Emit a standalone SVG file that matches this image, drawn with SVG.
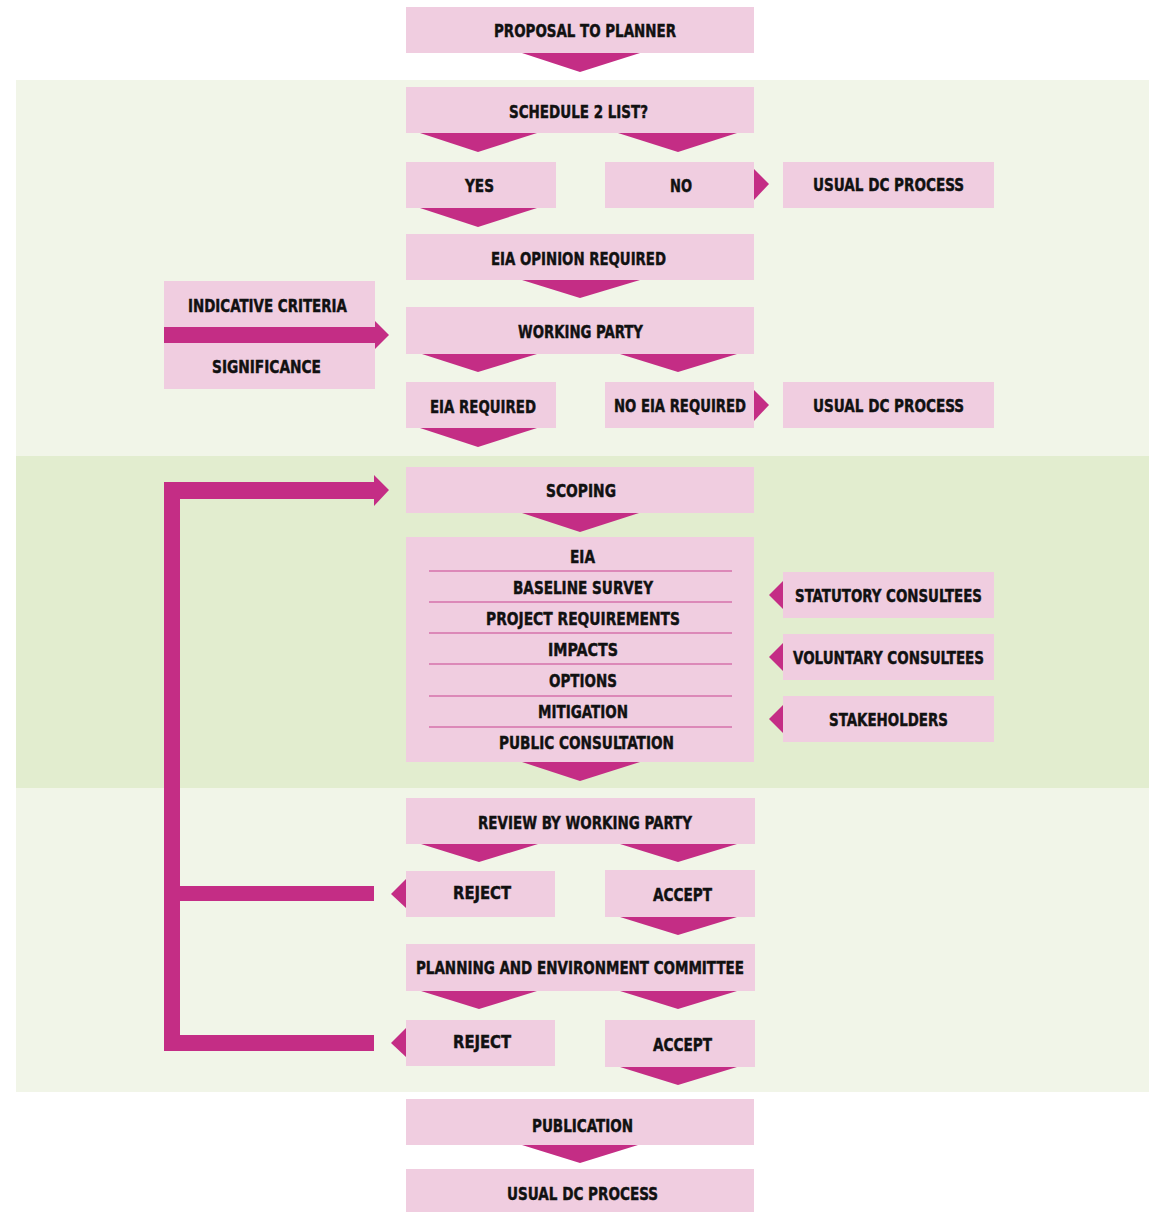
<svg xmlns="http://www.w3.org/2000/svg" width="1149" height="1212" viewBox="0 0 1149 1212">
<style>
.box{fill:#f0cde0}
.con{fill:#c42d85}
.sep{stroke:#c8458f;stroke-width:1.2}
text{font-family:"Liberation Sans Narrow","DejaVu Sans Condensed","Liberation Sans",sans-serif;font-weight:bold;font-size:18.5px;fill:#111;stroke:#111;stroke-width:0.45;font-stretch:condensed}
</style>
<rect x="0" y="0" width="1149" height="1212" fill="#ffffff"/>
<rect x="16" y="80" width="1133" height="376" fill="#f1f5e8"/>
<rect x="16" y="456" width="1133" height="332" fill="#e2edcf"/>
<rect x="16" y="788" width="1133" height="304" fill="#f1f5e8"/>

<g id="connectors">
<polygon class="con" points="522,53 640,53 580,72"/>
<polygon class="con" points="420,133 537,133 478,152"/>
<polygon class="con" points="618,133 737,133 678,152"/>
<polygon class="con" points="754,169 769,184 754,200"/>
<polygon class="con" points="420,208 537,208 478,227"/>
<polygon class="con" points="522,280 640,280 580,298"/>
<polygon class="con" points="375,321 389,335 375,349"/>
<polygon class="con" points="422,354 537,354 478,372"/>
<polygon class="con" points="620,354 737,354 678,372"/>
<polygon class="con" points="754,390 769,405 754,421"/>
<polygon class="con" points="420,428 537,428 478,447"/>
<polygon class="con" points="522,513 639,513 580,532"/>
<polygon class="con" points="522,762 640,762 580,781"/>
<polygon class="con" points="783,581 769,595 783,609"/>
<polygon class="con" points="783,643 769,657 783,671"/>
<polygon class="con" points="783,705 769,719 783,733"/>
<polygon class="con" points="421,844 538,844 479,862"/>
<polygon class="con" points="620,844 737,844 678,862"/>
<polygon class="con" points="406,879 391,894 406,908"/>
<polygon class="con" points="620,917 737,917 678,935"/>
<polygon class="con" points="421,991 537,991 479,1009"/>
<polygon class="con" points="620,991 737,991 678,1009"/>
<polygon class="con" points="406,1028 391,1043 406,1057"/>
<polygon class="con" points="620,1067 737,1067 678,1085"/>
<polygon class="con" points="522,1145 638,1145 580,1163"/>
<path class="con" d="M164,482 H374 V475 L389,490 L374,506 V499 H180 V886 H374 V901 H180 V1035 H374 V1051 H164 Z"/>
</g>

<g id="proposal"><rect class="box" x="406" y="7" width="348" height="46"/><text x="494" y="37" textLength="182" lengthAdjust="spacingAndGlyphs">PROPOSAL TO PLANNER</text></g>
<g id="schedule2"><rect class="box" x="406" y="87" width="348" height="46"/><text x="509" y="118" textLength="139" lengthAdjust="spacingAndGlyphs">SCHEDULE 2 LIST?</text></g>
<g id="yes"><rect class="box" x="406" y="162" width="150" height="46"/><text x="465" y="192" textLength="29" lengthAdjust="spacingAndGlyphs">YES</text></g>
<g id="no"><rect class="box" x="605" y="162" width="149" height="46"/><text x="670" y="192" textLength="22" lengthAdjust="spacingAndGlyphs">NO</text></g>
<g id="usual-dc-1"><rect class="box" x="783" y="162" width="211" height="46"/><text x="813" y="191" textLength="151" lengthAdjust="spacingAndGlyphs">USUAL DC PROCESS</text></g>
<g id="eia-opinion"><rect class="box" x="406" y="234" width="348" height="46"/><text x="491" y="265" textLength="175" lengthAdjust="spacingAndGlyphs">EIA OPINION REQUIRED</text></g>
<g id="criteria">
<rect class="box" x="164" y="281" width="211" height="108"/>
<rect class="con" x="164" y="327" width="211" height="16"/>
<text x="188" y="312" textLength="159" lengthAdjust="spacingAndGlyphs">INDICATIVE CRITERIA</text>
<text x="212" y="373" textLength="109" lengthAdjust="spacingAndGlyphs">SIGNIFICANCE</text>
</g>
<g id="working-party"><rect class="box" x="406" y="307" width="348" height="47"/><text x="518" y="338" textLength="125" lengthAdjust="spacingAndGlyphs">WORKING PARTY</text></g>
<g id="eia-required"><rect class="box" x="406" y="382" width="150" height="46"/><text x="430" y="413" textLength="106" lengthAdjust="spacingAndGlyphs">EIA REQUIRED</text></g>
<g id="no-eia-required"><rect class="box" x="605" y="382" width="149" height="46"/><text x="614" y="412" textLength="132" lengthAdjust="spacingAndGlyphs">NO EIA REQUIRED</text></g>
<g id="usual-dc-2"><rect class="box" x="783" y="382" width="211" height="46"/><text x="813" y="412" textLength="151" lengthAdjust="spacingAndGlyphs">USUAL DC PROCESS</text></g>
<g id="scoping"><rect class="box" x="406" y="467" width="348" height="46"/><text x="546" y="497" textLength="70" lengthAdjust="spacingAndGlyphs">SCOPING</text></g>
<g id="eia">
<rect class="box" x="406" y="537" width="348" height="225"/>
<line class="sep" x1="429" y1="571" x2="732" y2="571"/>
<line class="sep" x1="429" y1="602" x2="732" y2="602"/>
<line class="sep" x1="429" y1="633" x2="732" y2="633"/>
<line class="sep" x1="429" y1="664" x2="732" y2="664"/>
<line class="sep" x1="429" y1="696" x2="732" y2="696"/>
<line class="sep" x1="429" y1="727" x2="732" y2="727"/>
<text x="570" y="563" textLength="25" lengthAdjust="spacingAndGlyphs">EIA</text>
<text x="513" y="594" textLength="140" lengthAdjust="spacingAndGlyphs">BASELINE SURVEY</text>
<text x="486" y="625" textLength="194" lengthAdjust="spacingAndGlyphs">PROJECT REQUIREMENTS</text>
<text x="548" y="656" textLength="70" lengthAdjust="spacingAndGlyphs">IMPACTS</text>
<text x="549" y="687" textLength="68" lengthAdjust="spacingAndGlyphs">OPTIONS</text>
<text x="538" y="718" textLength="90" lengthAdjust="spacingAndGlyphs">MITIGATION</text>
<text x="499" y="749" textLength="175" lengthAdjust="spacingAndGlyphs">PUBLIC CONSULTATION</text>
</g>
<g id="statutory"><rect class="box" x="783" y="572" width="211" height="46"/><text x="795" y="602" textLength="187" lengthAdjust="spacingAndGlyphs">STATUTORY CONSULTEES</text></g>
<g id="voluntary"><rect class="box" x="783" y="634" width="211" height="46"/><text x="793" y="664" textLength="191" lengthAdjust="spacingAndGlyphs">VOLUNTARY CONSULTEES</text></g>
<g id="stakeholders"><rect class="box" x="783" y="696" width="211" height="46"/><text x="829" y="726" textLength="119" lengthAdjust="spacingAndGlyphs">STAKEHOLDERS</text></g>
<g id="review"><rect class="box" x="406" y="798" width="349" height="46"/><text x="478" y="829" textLength="214" lengthAdjust="spacingAndGlyphs">REVIEW BY WORKING PARTY</text></g>
<g id="reject-1"><rect class="box" x="406" y="871" width="149" height="46"/><text x="453" y="899" textLength="58" lengthAdjust="spacingAndGlyphs">REJECT</text></g>
<g id="accept-1"><rect class="box" x="605" y="870" width="150" height="47"/><text x="653" y="901" textLength="59" lengthAdjust="spacingAndGlyphs">ACCEPT</text></g>
<g id="committee"><rect class="box" x="406" y="944" width="349" height="47"/><text x="416" y="974" textLength="328" lengthAdjust="spacingAndGlyphs">PLANNING AND ENVIRONMENT COMMITTEE</text></g>
<g id="reject-2"><rect class="box" x="406" y="1020" width="149" height="46"/><text x="453" y="1048" textLength="58" lengthAdjust="spacingAndGlyphs">REJECT</text></g>
<g id="accept-2"><rect class="box" x="605" y="1020" width="150" height="47"/><text x="653" y="1051" textLength="59" lengthAdjust="spacingAndGlyphs">ACCEPT</text></g>
<g id="publication"><rect class="box" x="406" y="1099" width="348" height="46"/><text x="532" y="1132" textLength="101" lengthAdjust="spacingAndGlyphs">PUBLICATION</text></g>
<g id="usual-dc-3"><rect class="box" x="406" y="1169" width="348" height="43"/><text x="507" y="1200" textLength="151" lengthAdjust="spacingAndGlyphs">USUAL DC PROCESS</text></g>
</svg>
